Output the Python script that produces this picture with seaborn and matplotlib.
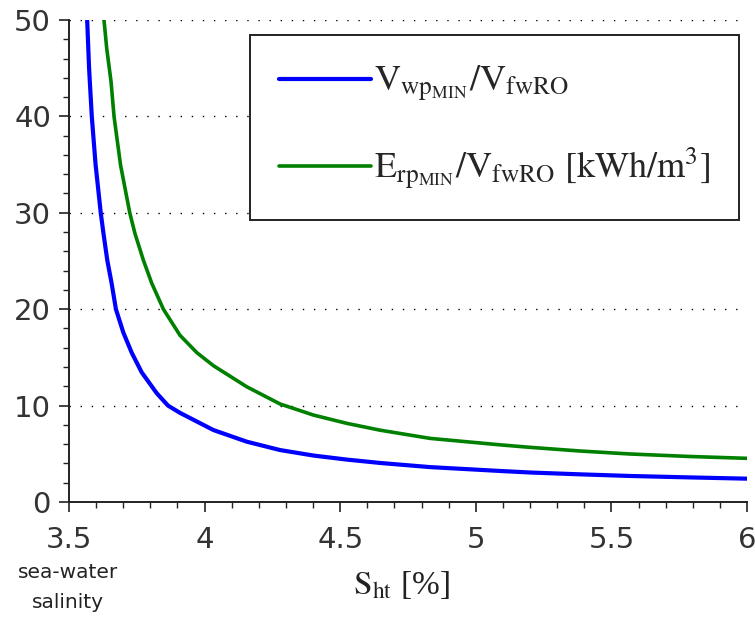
import matplotlib
matplotlib.use("Agg")
import matplotlib.pyplot as plt
import seaborn as sns
import pandas as pd
from matplotlib.ticker import MultipleLocator

# Data
blue_x = [3.567, 3.574, 3.584, 3.598, 3.617, 3.627, 3.641, 3.657, 3.673, 3.700,
          3.731, 3.768, 3.823, 3.865, 3.909, 4.032, 4.155, 4.278, 4.401, 4.524,
          4.647, 4.831, 5.089, 5.200, 5.384, 5.569, 5.790, 6.000]
blue_y = [50.0, 45.0, 40.0, 35.0, 30.0, 27.87, 25.1, 22.7, 20.0, 17.6,
          15.5, 13.45, 11.3, 10.0, 9.25, 7.47, 6.26, 5.39, 4.82, 4.40,
          4.05, 3.62, 3.22, 3.06, 2.87, 2.70, 2.55, 2.42]
green_x = [3.629, 3.639, 3.655, 3.666, 3.690, 3.724, 3.743, 3.774, 3.805, 3.848,
           3.909, 3.971, 4.032, 4.155, 4.278, 4.401, 4.524, 4.647, 4.831, 5.089,
           5.200, 5.384, 5.569, 5.790, 6.000]
green_y = [50.0, 47.06, 43.6, 40.0, 34.96, 30.0, 27.87, 25.1, 22.7, 20.0,
           17.3, 15.5, 14.15, 11.96, 10.17, 9.02, 8.16, 7.45, 6.6, 5.93,
           5.67, 5.29, 4.98, 4.72, 4.53]

label_blue = r"$\mathrm{V}_{\mathrm{wp}_{\mathrm{MIN}}}\mathrm{/V}_{\mathrm{fwRO}}$"
label_green = r"$\mathrm{E}_{\mathrm{rp}_{\mathrm{MIN}}}\mathrm{/V}_{\mathrm{fwRO}}\ [\mathrm{kWh/m}^{3}]$"

x_ticks = [3.5, 4, 4.5, 5, 5.5, 6]
x_tick_labels = ["3.5", "4", "4.5", "5", "5.5", "6"]
y_ticks = [0, 10, 20, 30, 40, 50]

sns.set_style("white")
plt.rcParams["font.family"] = ["DejaVu Sans"]
plt.rcParams["mathtext.fontset"] = "stix"

df_b = pd.DataFrame({"x": blue_x, "y": blue_y})
df_g = pd.DataFrame({"x": green_x, "y": green_y})

fig = plt.figure(figsize=(7.55, 6.18), dpi=100)
ax = fig.add_axes([0.0914, 0.1877, 0.898, 0.780])

sns.lineplot(data=df_b, x="x", y="y", ax=ax, color="#0000ff", linewidth=3.0,
             label=label_blue, sort=False, estimator=None)
sns.lineplot(data=df_g, x="x", y="y", ax=ax, color="#008000", linewidth=2.6,
             label=label_green, sort=False, estimator=None)

ax.set_xlim(3.5, 6)
ax.set_ylim(0, 50)
ax.set_xticks(x_ticks)
ax.set_xticklabels(x_tick_labels)
ax.set_yticks(y_ticks)
ax.xaxis.set_minor_locator(MultipleLocator(0.1))
ax.yaxis.set_minor_locator(MultipleLocator(2))

for y in y_ticks[1:]:
    ax.axhline(y, color="black", linewidth=1.0, linestyle=(0, (1, 7)), zorder=0)

for s in ["top", "right"]:
    ax.spines[s].set_visible(False)
for s in ["left", "bottom"]:
    ax.spines[s].set_color("#222222")
    ax.spines[s].set_linewidth(1.4)

ax.tick_params(axis="both", which="major", direction="out", length=7, width=1.2,
               color="#222222", labelsize=21, labelcolor="#333333", bottom=True, left=True)
ax.tick_params(axis="both", which="minor", direction="out", length=4, width=1.0,
               color="#222222", bottom=True, left=True)
ax.tick_params(axis="x", which="major", pad=10)
ax.tick_params(axis="y", which="major", pad=6)

ax.set_ylabel("")
ax.set_xlabel(r"$\mathrm{S}_{\mathrm{ht}}$ [%]", fontsize=24, family="Liberation Serif",
              color="#222222")
ax.xaxis.set_label_coords(0.49, -0.138)

fig.text(68 / 755, 1 - 572 / 618, "sea-water", ha="center", va="center",
         fontsize=14.5, color="#222222")
fig.text(68 / 755, 1 - 603 / 618, "salinity", ha="center", va="center",
         fontsize=14.5, color="#222222")

leg = ax.legend(loc="upper left", bbox_to_anchor=(0.267, 0.969), borderaxespad=0,
                fontsize=26, frameon=True, fancybox=False, handlelength=2.55,
                handletextpad=0.08, labelspacing=1.15, borderpad=0.8)
leg.get_frame().set_edgecolor("#222222")
leg.get_frame().set_linewidth(1.4)
leg.get_frame().set_alpha(1)

fig.savefig("out.png", dpi=100)
